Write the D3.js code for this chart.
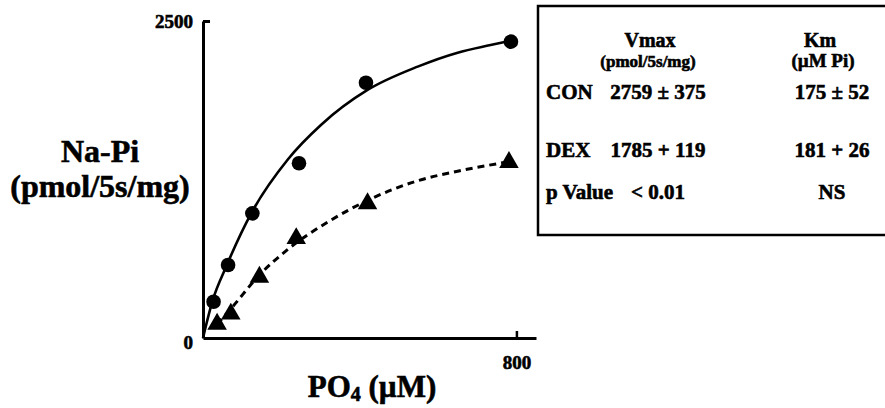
<!DOCTYPE html>
<html>
<head>
<meta charset="utf-8">
<script src="https://cdn.jsdelivr.net/npm/d3@7"></script>
<style>
  body { margin: 0; background: #fff; }
  svg text { font-family: "Liberation Serif", "Times New Roman", serif; font-weight: bold; fill: #000;
             stroke: #000; stroke-width: 0.6px; }
</style>
</head>
<body>
<div id="image"></div>
<script>
// measured points (PO4 uM, Na-Pi pmol/5s/mg)
var conX = [27, 64, 126, 245, 416, 786];
var conY = [286, 576, 983, 1378, 2013, 2337];
var dexX = [36, 71, 144, 238, 420, 781];
var dexY = [110, 190, 480, 785, 1060, 1385];

// fitted curves
var fitConX = [0, 25, 59, 123, 217, 301, 420, 548, 650, 734, 786];
var fitConY = [0, 300, 562, 983, 1410, 1680, 1956, 2140, 2250, 2310, 2345];
var fitDexX = [36, 71, 144, 217, 327, 420, 548, 650, 781];
var fitDexY = [110, 230, 497, 700, 930, 1085, 1240, 1315, 1390];

var yTicks = [0, 2500];
var xTicks = [800];

// table
var tableCols = ["Vmax", "Km"];
var tableUnits = ["(pmol/5s/mg)", "(\u00b5M Pi)"];
var tableRows = ["CON", "DEX", "p Value"];
var vmaxVals = ["2759 \u00b1 375", "1785 + 119", "< 0.01"];
var kmVals = ["175 \u00b1 52", "181 + 26", "NS"];

var W = 885, H = 408;
var svg = d3.select("#image").append("svg").attr("width", W).attr("height", H);
svg.append("rect").attr("width", W).attr("height", H).attr("fill", "#fff");

var x = d3.scaleLinear().domain([0, 850]).range([203, 536]);
var y = d3.scaleLinear().domain([0, 2500]).range([338, 21]);

// y axis
var yAx = svg.append("g")
    .attr("transform", "translate(" + x(0) + ",0)")
    .call(d3.axisLeft(y).tickValues(yTicks).tickSizeInner(-7).tickSizeOuter(0).tickPadding(10).tickFormat(d3.format("d")));
yAx.select(".domain").attr("stroke-width", 3);
yAx.selectAll(".tick line").attr("stroke-width", 3).filter(function(d){ return d == 0; }).remove();
yAx.selectAll(".tick text").attr("font-size", 19);
yAx.selectAll(".tick text").filter(function(d){ return d == 0; }).attr("dy", "0.55em");

// x axis
var xAx = svg.append("g")
    .attr("transform", "translate(0," + y(0) + ")")
    .call(d3.axisBottom(x).tickValues(xTicks).tickSizeInner(-7).tickSizeOuter(0).tickPadding(18));
xAx.select(".domain").attr("stroke-width", 3);
xAx.selectAll(".tick line").attr("stroke-width", 2.5);
xAx.selectAll(".tick text").attr("font-size", 19);

// axis titles
svg.append("text").attr("x", 100).attr("y", 162).attr("text-anchor", "middle")
    .attr("font-size", 32).text("Na-Pi");
svg.append("text").attr("x", 100).attr("y", 197).attr("text-anchor", "middle")
    .attr("font-size", 32).text("(pmol/5s/mg)");
var xt = svg.append("text").attr("x", 372).attr("y", 397).attr("text-anchor", "middle")
    .attr("font-size", 31);
xt.append("tspan").text("PO");
xt.append("tspan").attr("font-size", 20).attr("dy", 4).text("4");
xt.append("tspan").attr("dy", -4).text(" (\u00b5M)");

// curves
var line = d3.line().x(function(d){ return x(d[0]); }).y(function(d){ return y(d[1]); })
    .curve(d3.curveMonotoneX);

svg.append("path").datum(d3.zip(fitConX, fitConY))
    .attr("d", line).attr("fill", "none").attr("stroke", "#000").attr("stroke-width", 2.6);
svg.append("path").datum(d3.zip(fitDexX, fitDexY))
    .attr("d", line).attr("fill", "none").attr("stroke", "#000").attr("stroke-width", 3)
    .attr("stroke-dasharray", "7,5");

// points
svg.selectAll("circle.con").data(d3.zip(conX, conY)).enter().append("circle")
    .attr("class", "con")
    .attr("cx", function(d){ return x(d[0]); })
    .attr("cy", function(d){ return y(d[1]); })
    .attr("r", 7.3).attr("fill", "#000");

svg.selectAll("path.dex").data(d3.zip(dexX, dexY)).enter().append("path")
    .attr("class", "dex")
    .attr("d", d3.symbol().type(d3.symbolTriangle).size(165))
    .attr("transform", function(d){ return "translate(" + x(d[0]) + "," + y(d[1]) + ")"; })
    .attr("fill", "#000");

// table box
svg.append("rect").attr("x", 538).attr("y", 6).attr("width", 360).attr("height", 229)
    .attr("fill", "none").attr("stroke", "#000").attr("stroke-width", 2.5);

var colX = [658, 828];
var rowY = [99, 157, 199];
tableCols.forEach(function(c, i){
    svg.append("text").attr("x", colX[i] - 8).attr("y", 47).attr("text-anchor", "middle").attr("font-size", 20).text(c);
});
svg.append("text").attr("x", 648).attr("y", 67).attr("text-anchor", "middle").attr("font-size", 17).text(tableUnits[0]);
svg.append("text").attr("x", 823).attr("y", 67).attr("text-anchor", "middle").attr("font-size", 19).text(tableUnits[1]);
tableRows.forEach(function(r, i){
    svg.append("text").attr("x", 546).attr("y", rowY[i]).attr("font-size", 21).text(r);
    svg.append("text").attr("x", colX[0]).attr("y", rowY[i]).attr("text-anchor", "middle").attr("font-size", 21).text(vmaxVals[i]);
    svg.append("text").attr("x", colX[1] + 4).attr("y", rowY[i]).attr("text-anchor", "middle").attr("font-size", 21).text(kmVals[i]);
});
</script>
</body>
</html>
